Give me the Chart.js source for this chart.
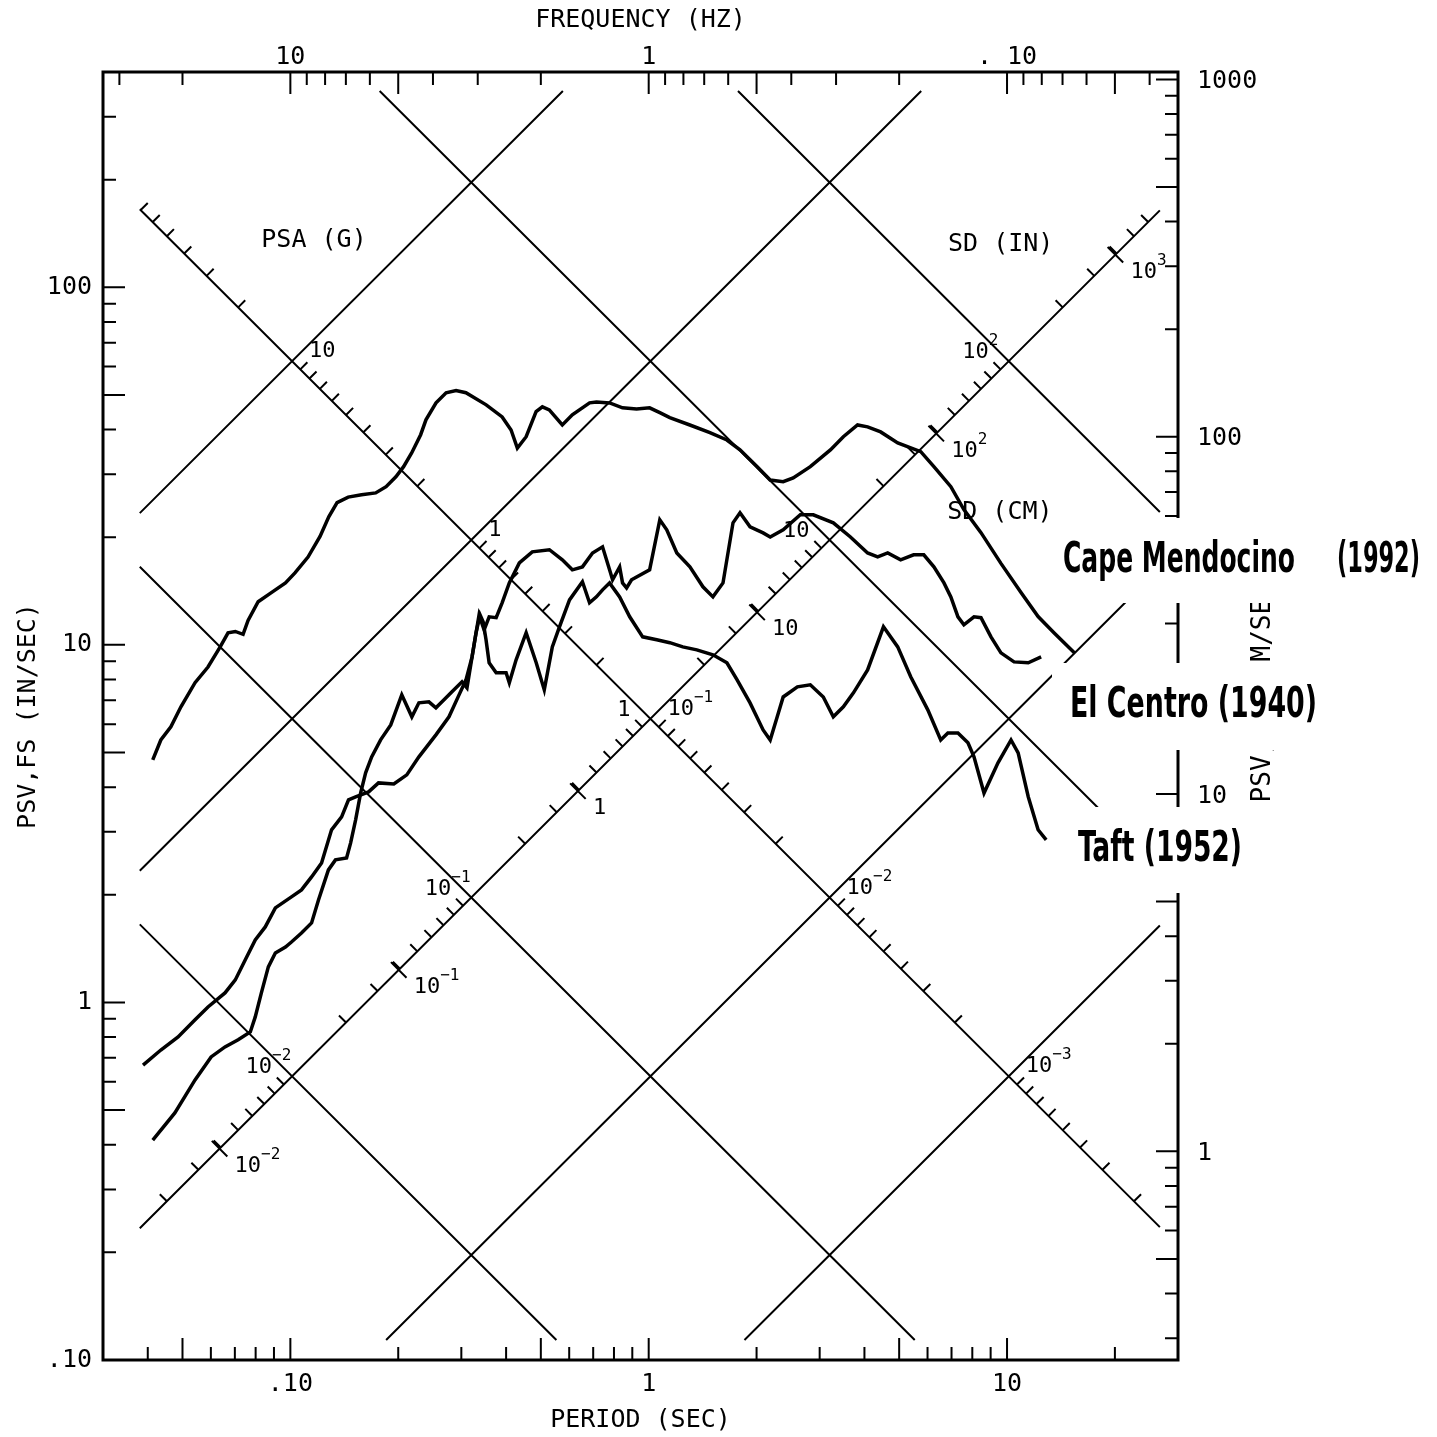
<!DOCTYPE html>
<html>
<head>
<meta charset="utf-8">
<title>PSV response spectra - tripartite plot</title>
<script src="https://cdn.jsdelivr.net/npm/chart.js@4.4.1/dist/chart.umd.min.js"></script>
<style>
  html, body { margin: 0; padding: 0; background: #fff; }
  #wrap { width: 1437px; height: 1437px; }
</style>
</head>
<body>
<div id="wrap"><canvas id="chart"></canvas></div>
<script>
// spectra: [period (sec), PSV (in/sec)]
const capeMendocino = [
  [0.0413, 4.77], [0.0435, 5.42], [0.0464, 5.90], [0.0495, 6.71], [0.0542, 7.84], [0.0589, 8.67],
  [0.0637, 9.87], [0.0670, 10.8], [0.0702, 10.9], [0.0738, 10.7], [0.0762, 11.7], [0.0813, 13.2],
  [0.0885, 14.0], [0.0969, 14.9], [0.103, 15.9], [0.112, 17.6], [0.121, 20.1], [0.128, 22.8],
  [0.135, 25.0], [0.145, 25.9], [0.158, 26.3], [0.173, 26.6], [0.185, 27.7], [0.197, 29.5],
  [0.207, 31.5], [0.218, 34.4], [0.231, 38.7], [0.239, 42.6], [0.255, 47.5], [0.272, 50.7],
  [0.290, 51.4], [0.309, 50.7], [0.352, 46.9], [0.390, 43.4], [0.413, 39.9], [0.430, 35.5],
  [0.455, 38.2], [0.485, 44.9], [0.505, 46.3], [0.528, 45.4], [0.574, 41.2], [0.612, 44.0],
  [0.684, 47.5], [0.715, 47.8], [0.778, 47.5], [0.845, 46.0], [0.925, 45.7], [1.006, 46.0],
  [1.074, 44.6], [1.145, 43.2], [1.303, 41.2], [1.482, 39.2], [1.653, 37.4], [1.798, 35.1],
  [2.008, 31.5], [2.183, 28.9], [2.373, 28.6], [2.531, 29.3], [2.825, 31.5], [3.214, 35.1],
  [3.493, 38.2], [3.827, 41.2], [4.082, 40.7], [4.439, 39.4], [4.954, 36.7], [5.745, 34.7],
  [6.250, 31.5], [6.970, 27.7], [7.579, 23.9], [8.459, 20.6], [9.616, 16.9], [10.94, 14.0],
  [12.21, 12.0], [13.54, 10.8], [15.41, 9.5]
];

const elCentro = [
  [0.0388, 0.668], [0.0435, 0.736], [0.0486, 0.801], [0.0542, 0.894], [0.0589, 0.971], [0.0657, 1.063],
  [0.0702, 1.156], [0.0748, 1.315], [0.0798, 1.496], [0.0851, 1.626], [0.0908, 1.838], [0.1007, 1.973],
  [0.1074, 2.064], [0.1146, 2.244], [0.1222, 2.456], [0.1303, 3.038], [0.1390, 3.303], [0.1453, 3.685],
  [0.1521, 3.757], [0.1653, 3.880], [0.1762, 4.111], [0.1944, 4.085], [0.2113, 4.329], [0.2284, 4.861],
  [0.2548, 5.602], [0.2771, 6.290], [0.2956, 7.246], [0.3091, 7.982], [0.3214, 9.257], [0.3362, 12.13],
  [0.3473, 11.02], [0.3587, 11.98], [0.3753, 11.91], [0.3899, 13.11], [0.4083, 14.90], [0.4355, 16.95],
  [0.4732, 18.20], [0.5284, 18.45], [0.5741, 17.29], [0.6122, 16.21], [0.6532, 16.52], [0.6970, 18.07],
  [0.7433, 18.80], [0.7777, 16.21], [0.7929, 15.20], [0.8297, 16.52], [0.8453, 14.90], [0.8676, 14.43],
  [0.8957, 15.20], [1.006, 16.21], [1.074, 22.37], [1.123, 20.98], [1.198, 18.07], [1.303, 16.52],
  [1.417, 14.53], [1.511, 13.62], [1.612, 14.90], [1.719, 21.94], [1.798, 23.40], [1.918, 21.38],
  [2.086, 20.56], [2.183, 20.03], [2.373, 20.98], [2.649, 23.11], [2.879, 23.11], [3.275, 21.94],
  [3.656, 20.03], [4.082, 18.07], [4.355, 17.62], [4.645, 18.07], [5.047, 17.29], [5.486, 17.86],
  [5.857, 17.86], [6.250, 16.52], [6.668, 14.90], [6.970, 13.62], [7.295, 11.98], [7.579, 11.38],
  [8.087, 11.98], [8.459, 11.91], [9.020, 10.53], [9.616, 9.50], [10.46, 8.96], [11.46, 8.91],
  [12.45, 9.25]
];

const taft = [
  [0.0413, 0.412], [0.0476, 0.491], [0.0542, 0.607], [0.0601, 0.704], [0.0657, 0.751], [0.0715, 0.786],
  [0.0773, 0.827], [0.0798, 0.911], [0.0830, 1.063], [0.0868, 1.257], [0.0908, 1.375], [0.0969, 1.429],
  [0.1007, 1.476], [0.1074, 1.564], [0.1146, 1.669], [0.1198, 1.935], [0.1277, 2.348], [0.1336, 2.504],
  [0.1435, 2.537], [0.1473, 2.794], [0.1521, 3.240], [0.1571, 3.855], [0.1622, 4.385], [0.1686, 4.861],
  [0.1786, 5.425], [0.1906, 5.973], [0.2046, 7.246], [0.2183, 6.290], [0.2284, 6.884], [0.2436, 6.928],
  [0.2548, 6.666], [0.2684, 7.018], [0.2825, 7.389], [0.3013, 7.880], [0.3111, 7.581], [0.3297, 10.81],
  [0.3383, 12.13], [0.3451, 11.60], [0.3516, 10.33], [0.3587, 8.91], [0.3753, 8.352], [0.4000, 8.352],
  [0.4083, 7.830], [0.4266, 9.08], [0.4550, 10.81], [0.4854, 8.91], [0.5112, 7.483], [0.5383, 9.87],
  [0.5636, 11.23], [0.6012, 13.36], [0.6532, 15.01], [0.6838, 13.11], [0.7147, 13.62], [0.7433, 14.25],
  [0.7777, 14.90], [0.8297, 13.62], [0.8851, 11.98], [0.9621, 10.53], [1.053, 10.33], [1.145, 10.14],
  [1.245, 9.87], [1.362, 9.68], [1.511, 9.38], [1.653, 8.91], [1.765, 7.98], [1.918, 6.88],
  [2.086, 5.78], [2.183, 5.42], [2.284, 6.29], [2.373, 7.15], [2.600, 7.63], [2.825, 7.73],
  [3.071, 7.15], [3.275, 6.29], [3.493, 6.71], [3.727, 7.34], [4.082, 8.51], [4.520, 11.23],
  [4.954, 9.87], [5.385, 8.14], [6.010, 6.58], [6.531, 5.42], [6.837, 5.67], [7.295, 5.67],
  [7.780, 5.32], [8.087, 4.86], [8.625, 3.85], [9.436, 4.68], [10.26, 5.42], [10.74, 4.99],
  [11.46, 3.76], [12.21, 3.04], [12.86, 2.85]
];

// axes
const periodRange = [0.03, 30];
const psvRange = [0.1, 400];
const cmRange = [0.2606, 1049];
const periodTicks = [0.1, 1, 10];
const periodLabels = ['.10', '1', '10'];
const freqTicks = [10, 1, 0.1];
const freqLabels = ['10', '1', '. 10'];
const psvTicks = [0.1, 1, 10, 100];
const psvLabels = ['.10', '1', '10', '100'];
const cmTicks = [1, 10, 100, 1000];
const cmLabels = ['1', '10', '100', '1000'];

// tripartite grid: PSA lines (g) and SD lines (in)
const psaGrid = [10, 1, 0.1, 0.01, 0.001];
const sdGrid = [100, 10, 1, 0.1, 0.01];
const sdCmMarks = [0.01, 0.1, 1, 10, 100, 1000];

const G_IN = 386.1;
const TWO_PI = 2 * Math.PI;
const FONT = '"DejaVu Sans Mono", "Liberation Mono", monospace';
const NARROW = '"Liberation Sans Narrow", "DejaVu Sans Condensed", sans-serif';

// the diagonal grid is clipped to this box (period, PSV)
const gridBox = {
  t0: Math.log10(0.038), t1: Math.log10(26.7),
  v0: Math.log10(0.1137), v1: Math.log10(354)
};

// free text placed in data units
const notes = [
  { text: 'PSA (G)', t: 0.1164, v: 135.5 },
  { text: 'SD (IN)', t: 9.6, v: 132 },
  { text: 'SD (CM)', t: 9.55, v: 23.5 }
];

// record names beside the plot (pixel layout)
const recordLabels = [
  { parts: [['Cape Mendocino', 1063, 1295], ['(1992)', 1337, 1420]], y: 561, box: [1052, 518, 1437, 603] },
  { parts: [['El Centro (1940)', 1070, 1317]], y: 706, box: [1052, 663, 1330, 750] },
  { parts: [['Taft (1952)', 1078, 1242]], y: 850, box: [1055, 807, 1262, 893] }
];

function logValues(min, max) {
  const out = [];
  for (let e = -3; e <= 3; e++) {
    for (let k = 1; k <= 9; k++) {
      const v = k * Math.pow(10, e);
      if (v > min * 1.0001 && v < max * 0.9999) out.push({ v, major: k === 1 || k === 5 });
    }
  }
  return out;
}

function minorValues(lo, hi) {
  const out = [];
  for (let e = -6; e <= 4; e++) {
    for (let k = 2; k <= 9; k++) {
      const v = k * Math.pow(10, e);
      if (v > lo && v < hi) out.push(v);
    }
  }
  return out;
}

function decadeLabel(v) {
  const e = Math.round(Math.log10(v));
  if (e === 0) return ['1', ''];
  if (e === 1) return ['10', ''];
  return ['10', e < 0 ? '\u2212' + (-e) : String(e)];
}

function inBox(lt, lv) {
  return lt >= gridBox.t0 && lt <= gridBox.t1 && lv >= gridBox.v0 && lv <= gridBox.v1;
}

// log v = logC + s * log t, clipped to gridBox
function clipSegment(logC, s) {
  let a = gridBox.t0, b = gridBox.t1;
  const ta = (gridBox.v0 - logC) / s, tb = (gridBox.v1 - logC) / s;
  a = Math.max(a, Math.min(ta, tb));
  b = Math.min(b, Math.max(ta, tb));
  return a < b ? [[a, logC + s * a], [b, logC + s * b]] : null;
}

function drawPowerLabel(ctx, label, x, y, align) {
  const [base, sup] = label;
  ctx.font = '22px ' + FONT;
  ctx.textBaseline = 'alphabetic';
  ctx.textAlign = align;
  ctx.fillText(base, x, y);
  if (!sup) return;
  const w = ctx.measureText(base).width;
  const sx = align === 'right' ? x : x + w;
  ctx.font = '16px ' + FONT;
  ctx.textAlign = 'left';
  ctx.fillText(sup, sx, y - 13);
}

const tripartite = {
  id: 'tripartite',
  beforeDatasetsDraw(chart) {
    const { ctx, chartArea: a, scales } = chart;
    const xs = scales.x, ys = scales.y, xt = scales.x2, yr = scales.y2;
    const P = (lt, lv) => ({ x: xs.getPixelForValue(Math.pow(10, lt)), y: ys.getPixelForValue(Math.pow(10, lv)) });

    ctx.save();
    ctx.strokeStyle = '#000';
    ctx.fillStyle = '#000';
    ctx.lineCap = 'butt';

    // frame
    ctx.lineWidth = 3;
    ctx.strokeRect(a.left, a.top, a.right - a.left, a.bottom - a.top);

    // inward ticks on the four sides
    ctx.lineWidth = 2;
    ctx.beginPath();
    logValues(periodRange[0], periodRange[1]).forEach(({ v, major }) => {
      const x = xs.getPixelForValue(v);
      ctx.moveTo(x, a.bottom); ctx.lineTo(x, a.bottom - (major ? 22 : 13));
    });
    logValues(1 / periodRange[1], 1 / periodRange[0]).forEach(({ v, major }) => {
      const x = xt.getPixelForValue(v);
      ctx.moveTo(x, a.top); ctx.lineTo(x, a.top + (major ? 22 : 13));
    });
    logValues(psvRange[0], psvRange[1]).forEach(({ v, major }) => {
      const y = ys.getPixelForValue(v);
      ctx.moveTo(a.left, y); ctx.lineTo(a.left + (major ? 22 : 13), y);
    });
    logValues(cmRange[0], cmRange[1]).forEach(({ v, major }) => {
      const y = yr.getPixelForValue(v);
      ctx.moveTo(a.right, y); ctx.lineTo(a.right - (major ? 22 : 13), y);
    });
    ctx.stroke();

    // diagonal grid
    ctx.lineWidth = 2;
    ctx.beginPath();
    psaGrid.forEach(p => {
      const seg = clipSegment(Math.log10(p * G_IN / TWO_PI), 1);
      if (!seg) return;
      const p0 = P(...seg[0]), p1 = P(...seg[1]);
      ctx.moveTo(p0.x, p0.y); ctx.lineTo(p1.x, p1.y);
    });
    sdGrid.forEach(d => {
      const seg = clipSegment(Math.log10(TWO_PI * d), -1);
      if (!seg) return;
      const p0 = P(...seg[0]), p1 = P(...seg[1]);
      ctx.moveTo(p0.x, p0.y); ctx.lineTo(p1.x, p1.y);
    });
    ctx.stroke();

    // PSA (g) scale along the SD = 1 in line
    const psaOnLine = p => {
      const lt = Math.log10(TWO_PI / Math.sqrt(p * G_IN));
      return [lt, Math.log10(TWO_PI) - lt];
    };
    // SD scale along the PSA = 0.1 g line
    const sdOnLine = d => {
      const lt = Math.log10(TWO_PI * Math.sqrt(d / (0.1 * G_IN)));
      return [lt, Math.log10(0.1 * G_IN / TWO_PI) + lt];
    };
    const normal = (lt, lv, dv) => {
      const p0 = P(lt, lv), p1 = P(lt + 0.1, lv + dv * 0.1);
      const dx = p1.x - p0.x, dy = p1.y - p0.y, n = Math.hypot(dx, dy);
      return { x: dy / n, y: -dx / n };
    };

    ctx.lineWidth = 2;
    ctx.beginPath();
    minorValues(1e-5, 1e3).forEach(p => {
      const [lt, lv] = psaOnLine(p);
      if (!inBox(lt, lv)) return;
      const c = P(lt, lv), n = normal(lt, lv, -1);
      ctx.moveTo(c.x, c.y); ctx.lineTo(c.x + n.x * 10, c.y + n.y * 10);
    });
    minorValues(1e-4, 1e4).forEach(d => {
      const [lt, lv] = sdOnLine(d);
      if (!inBox(lt, lv)) return;
      const c = P(lt, lv), n = normal(lt, lv, 1);
      ctx.moveTo(c.x, c.y); ctx.lineTo(c.x + n.x * 10, c.y + n.y * 10);
    });
    sdCmMarks.forEach(cm => {
      const [lt, lv] = sdOnLine(cm / 2.54);
      if (!inBox(lt, lv)) return;
      const c = P(lt, lv), n = normal(lt, lv, 1);
      ctx.moveTo(c.x - n.x * 11, c.y - n.y * 11); ctx.lineTo(c.x + n.x * 11, c.y + n.y * 11);
    });
    ctx.stroke();

    // scale numbers
    psaGrid.forEach(p => {
      const c = P(...psaOnLine(p));
      drawPowerLabel(ctx, decadeLabel(p), c.x + 17, c.y - 4, 'left');
    });
    sdGrid.forEach(d => {
      const c = P(...sdOnLine(d));
      drawPowerLabel(ctx, decadeLabel(d), c.x - 20, c.y - 3, 'right');
    });
    sdCmMarks.forEach(cm => {
      const c = P(...sdOnLine(cm / 2.54));
      drawPowerLabel(ctx, decadeLabel(cm), c.x + 15, c.y + 23, 'left');
    });

    ctx.font = '25px ' + FONT;
    ctx.textAlign = 'center';
    ctx.textBaseline = 'middle';
    notes.forEach(n => {
      ctx.fillText(n.text, xs.getPixelForValue(n.t), ys.getPixelForValue(n.v));
    });
    ctx.restore();
  }
};

const sideLabels = {
  id: 'sideLabels',
  afterDraw(chart) {
    const { ctx, chartArea: a } = chart;
    ctx.save();
    ctx.fillStyle = '#000';

    // right axis title
    ctx.font = '26px ' + FONT;
    ctx.textAlign = 'center';
    ctx.textBaseline = 'middle';
    ctx.translate(a.right + 85, 685);
    ctx.rotate(-Math.PI / 2);
    ctx.fillText('PSV,FS (CM/SEC)', 0, 0);
    ctx.setTransform(1, 0, 0, 1, 0, 0);

    recordLabels.forEach(r => {
      const [x0, y0, x1, y1] = r.box;
      ctx.fillStyle = '#fff';
      ctx.fillRect(x0, y0, x1 - x0, y1 - y0);
      ctx.fillStyle = '#000';
      ctx.font = 'bold 42px ' + NARROW;
      ctx.textAlign = 'left';
      ctx.textBaseline = 'middle';
      r.parts.forEach(([text, left, right]) => {
        const w = ctx.measureText(text).width;
        ctx.save();
        ctx.translate(left, r.y);
        ctx.scale((right - left) / w, 1);
        ctx.fillText(text, 0, 0);
        ctx.restore();
      });
    });
    ctx.restore();
  }
};

const toXY = rows => rows.map(([t, v]) => ({ x: t, y: v }));
const curve = (label, rows) => ({
  label, data: toXY(rows), showLine: true,
  borderColor: '#000', backgroundColor: '#000', borderWidth: 3.5,
  pointRadius: 0, pointHoverRadius: 0, tension: 0
});
const tickFont = { family: FONT, size: 25, lineHeight: 1.0 };
const titleFont = { family: FONT, size: 25, lineHeight: 1.2 };
const noGrid = { display: false, drawTicks: false };

new Chart(document.getElementById('chart'), {
  type: 'scatter',
  data: {
    datasets: [
      curve('Cape Mendocino (1992)', capeMendocino),
      curve('El Centro (1940)', elCentro),
      curve('Taft (1952)', taft)
    ]
  },
  options: {
    responsive: true,
    maintainAspectRatio: false,
    animation: false,
    layout: { padding: 0 },
    plugins: { legend: { display: false }, tooltip: { enabled: false } },
    scales: {
      x: {
        type: 'logarithmic', position: 'bottom', min: periodRange[0], max: periodRange[1],
        grid: noGrid, border: { display: false },
        afterBuildTicks: s => { s.ticks = periodTicks.map(v => ({ value: v })); },
        afterFit: s => { s.height = 77; },
        ticks: { color: '#000', font: tickFont, padding: 12, autoSkip: false, maxRotation: 0,
                 callback: (v, i) => periodLabels[i] },
        title: { display: true, text: 'PERIOD (SEC)', color: '#000', font: titleFont, padding: { top: 0, bottom: 2 } }
      },
      x2: {
        type: 'logarithmic', axis: 'x', position: 'top', reverse: true,
        min: 1 / periodRange[1], max: 1 / periodRange[0],
        grid: noGrid, border: { display: false },
        afterBuildTicks: s => { s.ticks = freqTicks.map(v => ({ value: v })); },
        afterFit: s => { s.height = 72; },
        ticks: { color: '#000', font: tickFont, padding: 2, autoSkip: false, maxRotation: 0,
                 callback: (v, i) => freqLabels[i] },
        title: { display: true, text: 'FREQUENCY (HZ)', color: '#000', font: titleFont, padding: { top: 5, bottom: 0 } }
      },
      y: {
        type: 'logarithmic', position: 'left', min: psvRange[0], max: psvRange[1],
        grid: noGrid, border: { display: false },
        afterBuildTicks: s => { s.ticks = psvTicks.map(v => ({ value: v })); },
        afterFit: s => { s.width = 103; },
        ticks: { color: '#000', font: tickFont, padding: 11, autoSkip: false,
                 callback: (v, i) => psvLabels[i] },
        title: { display: true, text: 'PSV,FS (IN/SEC)', color: '#000', font: titleFont, padding: { top: 13, bottom: 0 } }
      },
      y2: {
        type: 'logarithmic', axis: 'y', position: 'right', min: cmRange[0], max: cmRange[1],
        grid: noGrid, border: { display: false },
        afterBuildTicks: s => { s.ticks = cmTicks.map(v => ({ value: v })); },
        afterFit: s => { s.width = 259; },
        ticks: { color: '#000', font: tickFont, padding: 19, autoSkip: false, labelOffset: 2,
                 callback: (v, i) => cmLabels[i] }
      }
    }
  },
  plugins: [tripartite, sideLabels]
});
</script>
</body>
</html>
